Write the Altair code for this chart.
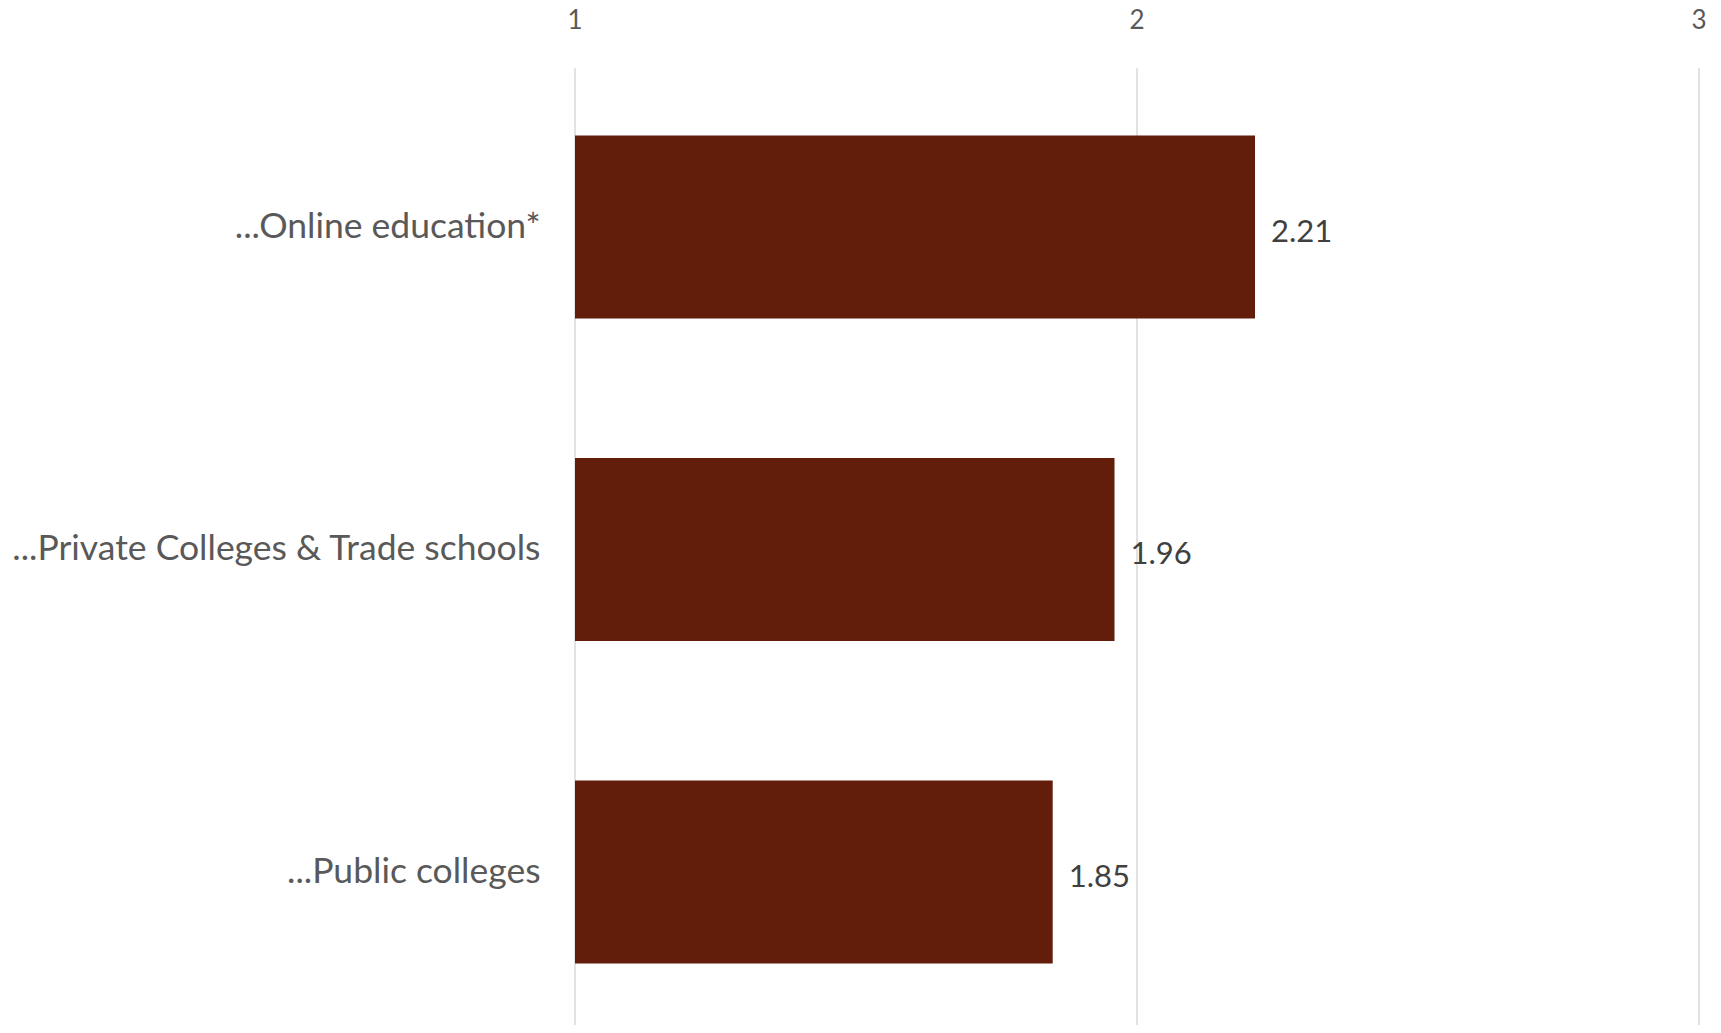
import altair as alt
import pandas as pd

categories = ["...Online education*", "...Private Colleges & Trade schools", "...Public colleges"]
values = [2.21, 1.96, 1.85]
value_labels = ["2.21", "1.96", "1.85"]
x_ticks = [1, 2, 3]
x_tick_labels = ["1", "2", "3"]

df = pd.DataFrame({"category": categories, "value": values, "label": value_labels})
ticks_df = pd.DataFrame({"tick": x_ticks, "tick_label": x_tick_labels})

FONT = "Lato"
PLOT_H = 959

y_scale = alt.Scale(paddingInner=0.4326, paddingOuter=0.2031, align=0.53)
x_scale = alt.Scale(domain=[1, 3], zero=False, nice=False)

grid = alt.Chart(ticks_df).mark_rule(color="#d9d9d9", strokeWidth=1.5).encode(
    x=alt.X("tick:Q", scale=x_scale, title=None),
    y=alt.value(2),
    y2=alt.value(PLOT_H + 8),
)

tick_text = alt.Chart(ticks_df).mark_text(
    align="center", baseline="middle", fontSize=26, color="#595959", font=FONT
).encode(
    x=alt.X("tick:Q", scale=x_scale),
    y=alt.value(-45),
    text="tick_label:N",
)

bars = alt.Chart(df).mark_bar(color="#631D0B").encode(
    x=alt.X("value:Q", scale=x_scale, title=None),
    x2=alt.datum(1),
    y=alt.Y("category:N", sort=categories, scale=y_scale, title=None),
)

text = alt.Chart(df).mark_text(
    align="left", baseline="middle", dx=16, dy=6, fontSize=31, color="#404040", font=FONT
).encode(
    x=alt.X("value:Q"),
    y=alt.Y("category:N", sort=categories),
    text="label:N",
)

chart = (
    alt.layer(grid, bars, text, tick_text)
    .properties(
        width=1124,
        height=PLOT_H,
        autosize=alt.AutoSizeParams(type="none"),
        padding={"left": 567, "top": 58, "right": 10, "bottom": 0},
        background="white",
    )
    .configure_view(stroke=None)
    .configure_axisX(
        domain=False, ticks=False, grid=False, labels=False, title=None,
    )
    .configure_axisY(
        domain=False, ticks=False, grid=False, labelFontSize=35.5, labelColor="#595959",
        labelFont=FONT, labelPadding=35, labelLimit=1000,
    )
)

chart.save("out.html", embed_options={"renderer": "svg", "actions": False})
